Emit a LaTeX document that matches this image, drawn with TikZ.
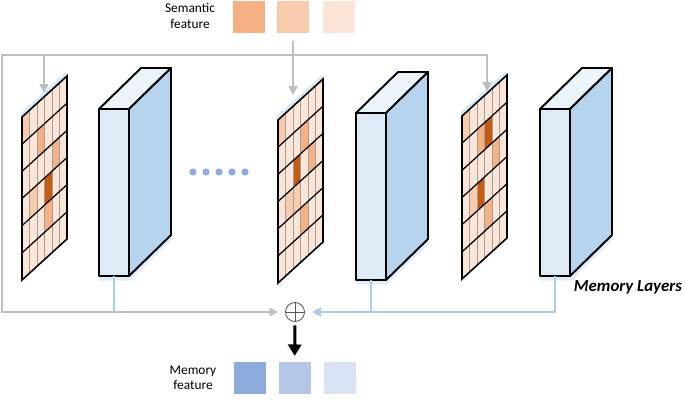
\documentclass[tikz,border=0pt]{standalone}
\usepackage{fontspec}
\setmainfont{Carlito}
\usetikzlibrary{arrows.meta}
\definecolor{semdeep}{RGB}{244,177,131}
\definecolor{semmid}{RGB}{248,203,173}
\definecolor{sempale}{RGB}{251,229,214}
\definecolor{semdark}{RGB}{197,90,17}
\definecolor{memdeep}{RGB}{143,170,220}
\definecolor{memmid}{RGB}{180,199,231}
\definecolor{mempale}{RGB}{218,227,243}
\definecolor{blockfront}{RGB}{222,235,247}
\definecolor{blockside}{RGB}{183,212,238}
\definecolor{blocktop}{RGB}{235,243,251}
\definecolor{linegray}{RGB}{191,191,191}
\definecolor{lineblue}{RGB}{169,204,235}

\begin{document}
\begin{tikzpicture}[x=0.02cm,y=-0.02cm,
    featbox/.style={minimum size=0.64cm,inner sep=0pt},
    grayline/.style={linegray,line width=1.1pt,line cap=rect},
    grayarrow/.style={grayline,-{Triangle[width=5pt,length=5pt]}},
    blueline/.style={lineblue,line width=1.1pt},
    bluearrow/.style={blueline,-{Triangle[width=5pt,length=5pt]}},
    blockface/.style={draw=black,line width=1.1pt,line join=round},
    labeltext/.style={font=\fontsize{7.6}{8.8}\selectfont,align=center}]
        \useasboundingbox (0,0) rectangle (685,400);

        % Semantic feature squares
        \node[labeltext] (semlabel) at (190,16) {Semantic\\feature};
        \node[featbox,fill=semdeep] (sem1) at (249,17) {};
        \node[featbox,fill=semmid] (sem2) at (293,17) {};
        \node[featbox,fill=sempale] (sem3) at (339,17) {};

        % Feature grids: base, glow and arrow targets
        \foreach \gx/\gy/\gname/\ax/\ay in {22/117/g1/44/93, 278/120/g2/293/95, 462/116/g3/487/91} {
            \draw[lineblue,line width=2.5pt,opacity=0.45] (\gx,{\gy-2}) -- ++(45,-41);
            \fill[sempale] (\gx,\gy) -- ++(45,-41) -- ++(0,163) -- ++(-45,41) -- cycle;
            \coordinate (\gname-in) at (\ax,\ay);
        }

        % Highlighted cells (grid x, grid y, column, row, colour)
        \foreach \gx/\gy/\c/\r/\col in {
            22/117/0/0/semmid, 22/117/2/1/semdeep, 22/117/4/2/semdeep, 22/117/3/3/semdark,
            22/117/3/4/semdeep, 22/117/1/3/semmid,
            278/120/0/0/semmid, 278/120/3/1/semdeep, 278/120/2/2/semdark, 278/120/4/2/semdeep,
            278/120/2/3/semmid, 278/120/1/3/semmid, 278/120/3/4/semdeep,
            462/116/0/0/semmid, 462/116/3/1/semdark, 462/116/2/1/semdeep, 462/116/4/2/semdeep,
            462/116/2/3/semdark, 462/116/1/3/semmid, 462/116/3/4/semdeep} {
            \fill[\col] ({\gx+7.5*\c},{\gy-6.833*\c+27.17*\r}) -- ++(7.5,-6.833) -- ++(0,27.17) -- ++(-7.5,6.833) -- cycle;
        }

        % Grid lines and outline
        \foreach \gx/\gy in {22/117, 278/120, 462/116} {
            \foreach \c in {1,...,5}
                \draw[gray!75,line width=0.4pt] ({\gx+7.5*\c},{\gy-6.833*\c}) -- ++(0,163);
            \foreach \r in {1,...,5}
                \draw[black,line width=0.7pt] (\gx,{\gy+27.17*\r}) -- ++(45,-41);
            \draw[black,line width=0.9pt] (\gx,\gy) -- ++(45,-41) -- ++(0,163) -- ++(-45,41) -- cycle;
        }

        % Memory layer blocks
        \foreach \bx/\by/\bname in {99/109/blk1, 356/113/blk2, 540/109/blk3} {
            \draw[lineblue,line width=3pt,opacity=0.35] (\bx,{\by+169}) -- ++(30,0) -- ++(42,-41);
            \filldraw[blockface,fill=blockfront] (\bx,\by) rectangle ++(30,167);
            \filldraw[blockface,fill=blocktop] (\bx,\by) -- ++(42,-41) -- ++(30,0) -- ++(-42,41) -- cycle;
            \filldraw[blockface,fill=blockside] ({\bx+30},\by) -- ++(42,-41) -- ++(0,167) -- ++(-42,41) -- cycle;
            \coordinate (\bname) at ({\bx+15},{\by+167});
        }

        % Dots between layers
        \foreach \i in {0,...,4}
            \fill[memdeep] ({193+13*\i},172) circle (3.6);

        % Sum node
        \node[circle,draw=gray!70!black,line width=0.5pt,minimum size=0.38cm,inner sep=0pt] (sum) at (295,312) {};
        \draw[gray!70!black,line width=0.5pt] (sum.north) -- (sum.south) (sum.west) -- (sum.east);

        % Gray frame carrying the semantic feature
        \coordinate (ftop) at (2,55);
        \coordinate (fbot) at (2,312);
        \draw[grayarrow] (fbot) -- (ftop) -| (g3-in);
        \draw[grayarrow] (g1-in |- ftop) -- (g1-in);
        \draw[grayarrow,shorten <=5pt] (sem2.south) -- (g2-in);
        \draw[grayarrow,shorten >=4pt] (fbot) -- (sum);

        % Blue outputs of the memory layers
        \draw[blueline] (blk1) -- (blk1 |- sum);
        \draw[blueline] (blk2) -- (blk2 |- sum);
        \draw[bluearrow,shorten >=4pt] (blk3) |- (sum);

        \node[font=\fontsize{9.6}{11}\selectfont\bfseries\itshape] (layerlabel) at (628,287) {Memory Layers};

        % Memory feature squares
        \node[featbox,fill=memdeep] (mem1) at (249.5,377.5) {};
        \node[featbox,fill=memmid] (mem2) at (294.5,377.5) {};
        \node[featbox,fill=mempale] (mem3) at (339.5,377.5) {};
        \node[labeltext] (memlabel) at (193,378) {Memory\\feature};
        \draw[black,line width=1.7pt,-{Triangle[width=7.5pt,length=6.5pt]},shorten <=2pt,shorten >=3pt] (sum) -- (mem2);
    \end{tikzpicture}
\end{document}
